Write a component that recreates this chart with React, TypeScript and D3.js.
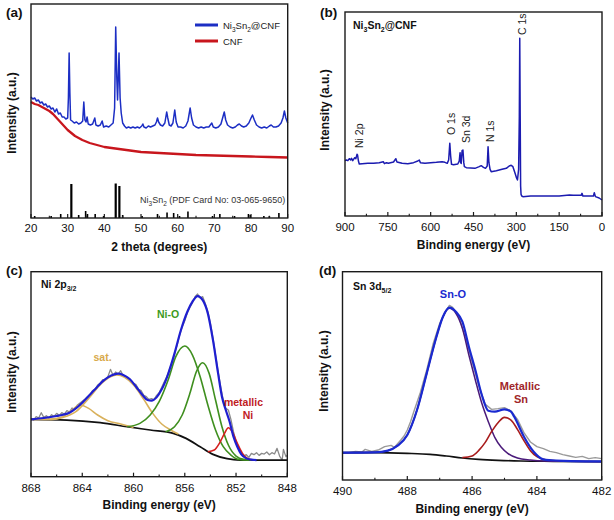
import React from "react";
import * as d3 from "d3";

type P = [number, number];

// ---------- (a) XRD ----------
const xrdTicks = [20, 30, 40, 50, 60, 70, 80, 90];
const xrdMinor = [25, 35, 45, 55, 65, 75, 85];
const xrdComposite: P[] = [
  [20, 121], [20.5, 119], [21, 120], [21.5, 117], [22, 118], [22.5, 115], [23, 116], [23.5, 113], [24, 114], [24.5, 111],
  [25, 112], [25.5, 109], [26, 110], [26.5, 106], [27, 109], [27.5, 104], [28, 105], [28.5, 101], [29, 101], [29.5, 99],
  [30, 100], [30.2, 120], [30.4, 165], [30.6, 125], [30.8, 98], [31.2, 97], [31.8, 95], [32.4, 96], [33, 94], [33.6, 95],
  [34.1, 97], [34.4, 116], [34.7, 98], [35.0, 96], [35.3, 101], [35.6, 94], [36.2, 93], [36.8, 94], [37.4, 100], [37.7, 93],
  [38.3, 92], [38.9, 93], [39.4, 97], [39.8, 91], [40.5, 92], [41.2, 91], [41.8, 93], [42.4, 95], [42.8, 110], [43.1, 191],
  [43.4, 140], [43.6, 118], [43.8, 140], [44.0, 165], [44.3, 120], [44.6, 105], [45.0, 95], [45.5, 92], [46, 90], [46.6, 91],
  [47.2, 90], [47.8, 91], [48.4, 90], [49, 91], [49.6, 90], [50.2, 92], [50.5, 94], [50.8, 91], [51.4, 90], [52, 92],
  [52.6, 91], [53.2, 92], [53.8, 93], [54.2, 96], [54.5, 100], [54.8, 96], [55.3, 93], [55.9, 92], [56.5, 95], [57.0, 106],
  [57.3, 100], [57.7, 93], [58.2, 92], [58.7, 95], [59.2, 108], [59.6, 96], [60.1, 91], [60.8, 91], [61.5, 90], [62.2, 92],
  [62.8, 97], [63.4, 110], [63.8, 100], [64.3, 93], [65, 91], [65.7, 90], [66.4, 91], [67.1, 90], [67.8, 91], [68.5, 91],
  [69.3, 95], [69.7, 91], [70.4, 90], [71.1, 91], [71.8, 94], [72.4, 102], [72.7, 106], [73.1, 98], [73.6, 93], [74.3, 91],
  [75, 90], [75.7, 91], [76.3, 93], [76.8, 94], [77.4, 92], [78, 91], [78.7, 92], [79.4, 95], [80, 100], [80.4, 103],
  [80.9, 98], [81.5, 93], [82.2, 91], [82.9, 90], [83.6, 91], [84.3, 90], [85, 92], [85.5, 93], [86.1, 91], [86.8, 91],
  [87.5, 92], [88.2, 95], [88.7, 100], [89.1, 107], [89.5, 100], [90, 95],
];
const xrdCNF: P[] = [
  [20, 116], [21, 114], [22, 113], [23, 111], [24, 109], [25, 107], [26, 104], [27, 100], [28, 96], [29, 92],
  [30, 88], [31, 85], [32, 82], [33, 80], [34, 78], [35, 76.5], [36, 75], [38, 73], [40, 71], [42, 70],
  [44, 69], [46, 68], [48, 67], [50, 66], [55, 65], [60, 64], [65, 63], [70, 62.5], [75, 62], [80, 61.5],
  [85, 61], [90, 60.5],
];
const pdfAngles = [21, 25.5, 28.1, 31, 33, 34.9, 35.4, 37.5, 39.8, 43.1, 44.1, 45, 50.3, 54.5, 57.1, 58.9, 60.5, 62.8, 69.5, 71.5, 75.5, 79.3, 79.8, 83.5, 85, 87.6];
const pdfHeights = [2, 2, 4, 34, 3, 7, 4, 4, 2, 34.5, 32, 3, 2, 4, 5.5, 5, 2, 6.5, 2, 4, 2, 4, 3, 2, 2, 5];

// ---------- (b) XPS survey ----------
const surveyTicks = [900, 750, 600, 450, 300, 150, 0];
const surveyMinor = [825, 675, 525, 375, 225, 75];
const survey: P[] = [
  [900, 166], [895, 168], [890, 166], [885, 172], [880, 168], [877, 173], [873, 166], [870, 170], [866, 175], [862, 172],
  [858, 185], [856, 183], [853, 165], [850, 156], [840, 157], [820, 158], [800, 158], [780, 160], [766, 163], [762, 157],
  [755, 160], [748, 158], [730, 162], [722, 172], [718, 162], [700, 158], [680, 157], [660, 160], [645, 165], [640, 168],
  [636, 160], [620, 158], [600, 160], [580, 161], [560, 163], [550, 161], [542, 158], [537, 168], [533, 218], [530, 180],
  [527, 155], [520, 154], [505, 156], [500, 165], [497, 190], [495, 160], [493, 158], [490, 196], [487, 198], [484, 160],
  [482, 148], [475, 145], [460, 144], [445, 143], [430, 148], [423, 151], [415, 146], [408, 143], [402, 150], [399, 208],
  [396, 160], [392, 140], [388, 133], [370, 136], [350, 140], [335, 143], [325, 150], [318, 152], [312, 148], [305, 130],
  [300, 116], [296, 108], [292, 140], [289.5, 300], [288, 533], [286.5, 300], [285, 90], [283.5, 65], [281, 60], [277, 58],
  [250, 60], [200, 60], [150, 60], [114, 63], [100, 62], [73, 62], [70, 68], [67, 60], [40, 60], [30, 60],
  [27, 70], [23, 58], [10, 54], [0, 48],
];
const surveyLabels = ["Ni 2p", "O 1s", "Sn 3d", "N 1s", "C 1s"];
const surveyLabelEnergy = [852, 529, 475, 390.5, 278.5];
const surveyLabelLevel = [204, 243, 219, 222, 543];

// ---------- (c) Ni 2p3/2 ----------
const niTicks = [868, 864, 860, 856, 852, 848];
const niMinor = [866, 862, 858, 854, 850];
const niRaw: P[] = [
  [868, 175], [867.8, 170], [867.6, 180], [867.4, 176], [867.2, 192], [867, 178], [866.8, 183], [866.6, 176], [866.4, 186], [866.2, 181],
  [866, 190], [865.8, 184], [865.6, 192], [865.4, 188], [865.2, 198], [865, 194], [864.8, 206], [864.6, 202], [864.4, 214], [864.2, 220],
  [864, 226], [863.8, 232], [863.6, 240], [863.4, 246], [863.2, 258], [863, 262], [862.8, 275], [862.6, 280], [862.4, 291], [862.2, 290],
  [862, 300], [861.8, 322], [861.6, 304], [861.4, 314], [861.2, 308], [861, 318], [860.8, 302], [860.6, 300], [860.4, 292], [860.2, 286],
  [860, 280], [859.8, 276], [859.6, 262], [859.4, 258], [859.2, 244], [859, 240], [858.8, 232], [858.6, 234], [858.4, 231], [858.2, 244],
  [858, 252], [857.8, 268], [857.6, 285], [857.4, 300], [857.2, 322], [857, 340], [856.8, 368], [856.6, 395], [856.4, 425], [856.2, 450],
  [856, 468], [855.8, 492], [855.6, 508], [855.4, 522], [855.2, 540], [855, 548], [854.8, 536], [854.6, 540], [854.4, 520], [854.2, 495],
  [854, 460], [853.8, 415], [853.6, 365], [853.4, 315], [853.2, 270], [853, 230], [852.8, 205], [852.6, 200], [852.4, 172], [852.2, 135],
  [852, 105], [851.8, 88], [851.6, 72], [851.4, 62], [851.2, 66], [851, 58], [850.8, 70], [850.6, 66], [850.4, 72], [850.2, 64],
  [850, 70], [849.8, 68], [849.6, 74], [849.4, 66], [849.2, 72], [849, 68], [848.8, 85], [848.6, 62], [848.4, 50], [848.3, 82],
  [848.2, 70], [848.1, 60], [848, 65],
];
const niBackground: P[] = [
  [868, 172], [865.2, 170], [862.6, 162], [860.5, 150], [858.7, 140], [856.9, 130], [855.9, 115], [854.8, 90], [853.8, 67],
  [852.7, 54], [851.7, 50], [848, 50],
];
const niSat1: P[] = [
  [868, 172], [866.5, 172], [865.5, 180], [864.8, 200], [864.2, 215], [863.5, 205], [862.8, 185], [862, 168], [861, 158], [860, 148],
];
const niSat2: P[] = [
  [866.5, 172], [865.5, 178], [864.5, 195], [863.5, 235], [862.5, 280], [861.8, 300], [861.3, 305], [860.7, 298], [860, 275],
  [859.2, 232], [858.5, 190], [857.8, 158], [857, 138], [856.5, 128],
];
const niOxide1: P[] = [
  [860.5, 150], [859.5, 160], [858.7, 185], [858, 225], [857.3, 290], [856.7, 360], [856.0, 392], [855.4, 365], [854.8, 300],
  [854.2, 215], [853.6, 140], [853, 90], [852.4, 65], [851.8, 52], [851, 50],
];
const niOxide2: P[] = [
  [857.5, 135], [856.8, 150], [856.2, 185], [855.6, 250], [855.1, 315], [854.6, 342], [854.1, 310], [853.6, 230], [853.1, 150],
  [852.6, 95], [852, 62], [851.4, 52], [850.8, 50],
];
const niMetal: P[] = [
  [854.2, 75], [853.7, 80], [853.3, 100], [852.9, 130], [852.6, 147], [852.3, 135], [851.9, 100], [851.5, 70], [851.1, 55], [850.6, 50],
];
const niEnvelope: P[] = [
  [868, 172], [867, 176], [866, 182], [865.5, 186], [865, 192], [864.5, 205], [864, 222], [863.5, 242], [863, 262], [862.5, 283],
  [862, 298], [861.5, 307], [861.2, 309], [860.8, 305], [860.3, 293], [859.8, 270], [859.3, 245], [858.9, 230], [858.6, 228],
  [858.2, 238], [857.8, 262], [857.3, 308], [856.8, 370], [856.3, 440], [855.8, 495], [855.4, 525], [855.0, 542], [854.6, 530],
  [854.2, 490], [853.8, 410], [853.4, 310], [853.1, 240], [852.8, 200], [852.5, 165], [852.2, 120], [851.9, 90], [851.6, 68],
  [851.2, 55], [850.8, 51], [850.4, 50],
];

// ---------- (d) Sn 3d5/2 ----------
const snTicks = [490, 488, 486, 484, 482];
const snMinor = [489, 487, 485, 483];
const snRaw: P[] = [
  [490, 80], [489.8, 82], [489.6, 86], [489.4, 84], [489.3, 92], [489.1, 86], [488.9, 90], [488.7, 100], [488.5, 104], [488.4, 98],
  [488.2, 120], [488.1, 132], [488, 150], [487.9, 175], [487.8, 205], [487.6, 262], [487.4, 330], [487.2, 410], [487, 470], [486.8, 508],
  [486.7, 524], [486.6, 518], [486.4, 488], [486.2, 425], [486, 355], [485.8, 285], [485.6, 228], [485.4, 212], [485.2, 214], [485, 217],
  [484.8, 207], [484.6, 182], [484.4, 142], [484.2, 114], [484, 100], [483.8, 94], [483.6, 86], [483.4, 82], [483.2, 76], [483.0, 72],
  [482.8, 68], [482.6, 71], [482.4, 64], [482.2, 67], [482, 64],
];
const snBackground: P[] = [
  [490, 82], [489, 82], [488, 80], [487.3, 77], [486.8, 72], [486.3, 66], [485.8, 62], [485.2, 59], [484.5, 57], [483.5, 56], [482, 55],
];
const snOxide: P[] = [
  [490, 82], [489, 83], [488.6, 88], [488.3, 103], [488, 135], [487.7, 210], [487.4, 320], [487.1, 430], [486.9, 490], [486.7, 515],
  [486.5, 500], [486.3, 455], [486.1, 375], [485.9, 300], [485.7, 230], [485.5, 175], [485.3, 128], [485.1, 98], [484.9, 80],
  [484.6, 66], [484.2, 60], [483.8, 57], [483, 56], [482, 55],
];
const snMetal: P[] = [
  [486.3, 67], [486, 72], [485.8, 88], [485.6, 112], [485.4, 145], [485.2, 172], [485.0, 188], [484.8, 180], [484.6, 152],
  [484.4, 118], [484.2, 88], [484.0, 70], [483.7, 60], [483.3, 57],
];
const snEnvelope: P[] = [
  [490, 82], [489, 83], [488.6, 88], [488.3, 103], [488, 135], [487.7, 210], [487.4, 320], [487.1, 430], [486.9, 490], [486.7, 517],
  [486.5, 505], [486.3, 475], [486.1, 400], [485.9, 330], [485.7, 255], [485.5, 208], [485.3, 205], [485.0, 212], [484.8, 205],
  [484.7, 190], [484.4, 130], [484.1, 85], [483.8, 62], [483.4, 58], [482.5, 56], [482, 56],
];

const FONT = "'Liberation Sans', Arial, Helvetica, sans-serif";
const INK = "#1a1a1a";

type AxisProps = {
  x: d3.ScaleLinear<number, number>;
  top: number;
  bottom: number;
  ticks: number[];
  minor: number[];
  labelOffset: number;
  title: string;
  titleY: number;
  yTitleX: number;
  yTitleY: number;
};

function Frame({ x, top, bottom, ticks, minor, labelOffset, title, titleY, yTitleX, yTitleY }: AxisProps) {
  const [x0, x1] = x.range();
  const left = Math.min(x0, x1);
  const right = Math.max(x0, x1);
  return (
    <g>
      <rect x={left} y={top} width={right - left} height={bottom - top} fill="none" stroke={INK} strokeWidth={1.4} />
      {ticks.map((t) => (
        <g key={"t" + t}>
          <line x1={x(t)} x2={x(t)} y1={bottom} y2={bottom - 4} stroke={INK} strokeWidth={1.2} />
          <text x={x(t)} y={bottom + labelOffset} textAnchor="middle" fontSize={11.5} fontFamily={FONT} fill="#111">
            {t}
          </text>
        </g>
      ))}
      {minor.map((t) => (
        <line key={"m" + t} x1={x(t)} x2={x(t)} y1={bottom} y2={bottom - 2.2} stroke={INK} strokeWidth={1.1} />
      ))}
      <text x={(left + right) / 2} y={titleY} textAnchor="middle" fontSize={12} fontWeight="bold" fontFamily={FONT} fill="#111">
        {title}
      </text>
      <text
        transform={`translate(${yTitleX},${yTitleY}) rotate(-90)`}
        textAnchor="middle"
        fontSize={12}
        fontWeight="bold"
        fontFamily={FONT}
        fill="#111"
      >
        Intensity (a.u.)
      </text>
    </g>
  );
}

function PanelLabel({ x, y, text }: { x: number; y: number; text: string }) {
  return (
    <text x={x} y={y} fontSize={13.5} fontWeight="bold" fontFamily={FONT} fill="#111">
      {text}
    </text>
  );
}

export default function App() {
  // (a)
  const xA = d3.scaleLinear().domain([20, 90]).range([31, 287.7]);
  const yA = d3.scaleLinear().domain([0, 214]).range([218, 4]);
  const lineA = d3.line<P>().x((d) => xA(d[0])).y((d) => yA(d[1]));

  // (b)
  const xB = d3.scaleLinear().domain([900, 0]).range([345, 602]);
  const yB = d3.scaleLinear().domain([0, 612]).range([216, 12]);
  const lineB = d3.line<P>().x((d) => xB(d[0])).y((d) => yB(d[1]));

  // (c)
  const xC = d3.scaleLinear().domain([868, 848]).range([31, 287.3]);
  const yC = d3.scaleLinear().domain([0, 615]).range([476.7, 271.7]);
  const lineC = d3.line<P>().x((d) => xC(d[0])).y((d) => yC(d[1]));
  const smoothC = d3.line<P>().x((d) => xC(d[0])).y((d) => yC(d[1])).curve(d3.curveMonotoneX);

  // (d)
  const xD = d3.scaleLinear().domain([490, 482]).range([342.5, 601.7]);
  const yD = d3.scaleLinear().domain([0, 625]).range([480, 271.7]);
  const lineD = d3.line<P>().x((d) => xD(d[0])).y((d) => yD(d[1]));
  const smoothD = d3.line<P>().x((d) => xD(d[0])).y((d) => yD(d[1])).curve(d3.curveMonotoneX);

  return (
    <svg
      width={614}
      height={520}
      viewBox="0 0 614 520"
      style={{ position: "absolute", left: 0, top: 0, background: "#fff" }}
      fontFamily={FONT}
    >
      <rect x={0} y={0} width={614} height={520} fill="#fff" />

      {/* ---------- (a) ---------- */}
      <g>
        <path d={lineA(xrdCNF) || ""} fill="none" stroke="#c8161d" strokeWidth={2.3} strokeLinejoin="round" />
        <path d={lineA(xrdComposite) || ""} fill="none" stroke="#1c2ec4" strokeWidth={1.5} strokeLinejoin="round" />
        {pdfAngles.map((a, i) => (
          <line
            key={"pdf" + i}
            x1={xA(a)}
            x2={xA(a)}
            y1={yA(0)}
            y2={yA(pdfHeights[i])}
            stroke="#000"
            strokeWidth={pdfHeights[i] > 20 ? 2.2 : 1.6}
          />
        ))}
        <text x={140} y={203} fontSize={9} fontFamily={FONT} fill="#333">
          Ni<tspan dy={2.5} fontSize={6.5}>3</tspan>
          <tspan dy={-2.5}>Sn</tspan>
          <tspan dy={2.5} fontSize={6.5}>2</tspan>
          <tspan dy={-2.5}> (PDF Card No: 03-065-9650)</tspan>
        </text>
        <line x1={195} x2={218} y1={25} y2={25} stroke="#1c2ec4" strokeWidth={3} />
        <text x={223} y={29} fontSize={9.5} fontFamily={FONT} fill="#222">
          Ni<tspan dy={2.5} fontSize={6.5}>3</tspan>
          <tspan dy={-2.5}>Sn</tspan>
          <tspan dy={2.5} fontSize={6.5}>2</tspan>
          <tspan dy={-2.5}>@CNF</tspan>
        </text>
        <line x1={195} x2={218} y1={41} y2={41} stroke="#c8161d" strokeWidth={3} />
        <text x={223} y={45} fontSize={9.5} fontFamily={FONT} fill="#222">
          CNF
        </text>
        <Frame
          x={xA}
          top={4}
          bottom={218}
          ticks={xrdTicks}
          minor={xrdMinor}
          labelOffset={14}
          title="2 theta (degrees)"
          titleY={251}
          yTitleX={16}
          yTitleY={113}
        />
        <PanelLabel x={6} y={17} text="(a)" />
      </g>

      {/* ---------- (b) ---------- */}
      <g>
        <path d={lineB(survey) || ""} fill="none" stroke="#1b1bb0" strokeWidth={1.5} strokeLinejoin="round" />
        {surveyLabels.map((s, i) => (
          <text
            key={s}
            transform={`translate(${xB(surveyLabelEnergy[i]) + 3.8},${yB(surveyLabelLevel[i])}) rotate(-90)`}
            fontSize={10.5}
            fontFamily={FONT}
            fill="#222"
          >
            {s}
          </text>
        ))}
        <text x={353} y={29} fontSize={10.5} fontWeight="bold" fontFamily={FONT} fill="#111">
          Ni<tspan dy={2.5} fontSize={7}>3</tspan>
          <tspan dy={-2.5}>Sn</tspan>
          <tspan dy={2.5} fontSize={7}>2</tspan>
          <tspan dy={-2.5}>@CNF</tspan>
        </text>
        <Frame
          x={xB}
          top={12}
          bottom={216}
          ticks={surveyTicks}
          minor={surveyMinor}
          labelOffset={15}
          title="Binding energy (eV)"
          titleY={249}
          yTitleX={329}
          yTitleY={110}
        />
        <PanelLabel x={320} y={17} text="(b)" />
      </g>

      {/* ---------- (c) ---------- */}
      <g>
        <path d={lineC(niRaw) || ""} fill="none" stroke="#8a8a8a" strokeWidth={1.3} strokeLinejoin="round" />
        <path d={smoothC(niBackground) || ""} fill="none" stroke="#111" strokeWidth={1.7} />
        <path d={smoothC(niSat1) || ""} fill="none" stroke="#d9b15c" strokeWidth={1.6} />
        <path d={smoothC(niSat2) || ""} fill="none" stroke="#d9b15c" strokeWidth={1.6} />
        <path d={smoothC(niOxide1) || ""} fill="none" stroke="#3f8f1f" strokeWidth={1.6} />
        <path d={smoothC(niOxide2) || ""} fill="none" stroke="#3f8f1f" strokeWidth={1.6} />
        <path d={smoothC(niMetal) || ""} fill="none" stroke="#d4201f" strokeWidth={1.6} />
        <path d={smoothC(niEnvelope) || ""} fill="none" stroke="#1f1fd0" strokeWidth={2.2} />
        <text x={41} y={288} fontSize={10.5} fontWeight="bold" fontFamily={FONT} fill="#111">
          Ni 2p<tspan dy={2.5} fontSize={7}>3/2</tspan>
        </text>
        <text x={102.5} y={361} textAnchor="middle" fontSize={10.5} fontWeight="bold" fontFamily={FONT} fill="#d8aa4c">
          sat.
        </text>
        <text x={168} y={318} textAnchor="middle" fontSize={10.5} fontWeight="bold" fontFamily={FONT} fill="#3c9a1c">
          Ni-O
        </text>
        <text x={243.5} y={406} textAnchor="middle" fontSize={10.5} fontWeight="bold" fontFamily={FONT} fill="#c0201f">
          metallic
        </text>
        <text x={248} y={419} textAnchor="middle" fontSize={10.5} fontWeight="bold" fontFamily={FONT} fill="#c0201f">
          Ni
        </text>
        <Frame
          x={xC}
          top={271.7}
          bottom={476.7}
          ticks={niTicks}
          minor={niMinor}
          labelOffset={15}
          title="Binding energy (eV)"
          titleY={509}
          yTitleX={16}
          yTitleY={372}
        />
        <PanelLabel x={6} y={275} text="(c)" />
      </g>

      {/* ---------- (d) ---------- */}
      <g>
        <path d={lineD(snRaw) || ""} fill="none" stroke="#9a9a9a" strokeWidth={1.4} strokeLinejoin="round" />
        <path d={smoothD(snBackground) || ""} fill="none" stroke="#111" strokeWidth={1.7} />
        <path d={smoothD(snOxide) || ""} fill="none" stroke="#4a1a7a" strokeWidth={1.5} />
        <path d={smoothD(snMetal) || ""} fill="none" stroke="#a81c1c" strokeWidth={1.6} />
        <path d={smoothD(snEnvelope) || ""} fill="none" stroke="#1a2ad0" strokeWidth={2.2} />
        <text x={353} y={290} fontSize={10.5} fontWeight="bold" fontFamily={FONT} fill="#111">
          Sn 3d<tspan dy={2.5} fontSize={7}>5/2</tspan>
        </text>
        <text x={453} y={298} textAnchor="middle" fontSize={11} fontWeight="bold" fontFamily={FONT} fill="#1a2ad0">
          Sn-O
        </text>
        <text x={520} y={390} textAnchor="middle" fontSize={11} fontWeight="bold" fontFamily={FONT} fill="#a0262a">
          Metallic
        </text>
        <text x={521} y={403} textAnchor="middle" fontSize={11} fontWeight="bold" fontFamily={FONT} fill="#a0262a">
          Sn
        </text>
        <Frame
          x={xD}
          top={271.7}
          bottom={480}
          ticks={snTicks}
          minor={snMinor}
          labelOffset={15}
          title="Binding energy (eV)"
          titleY={513}
          yTitleX={328}
          yTitleY={371}
        />
        <PanelLabel x={319} y={275} text="(d)" />
      </g>
    </svg>
  );
}
